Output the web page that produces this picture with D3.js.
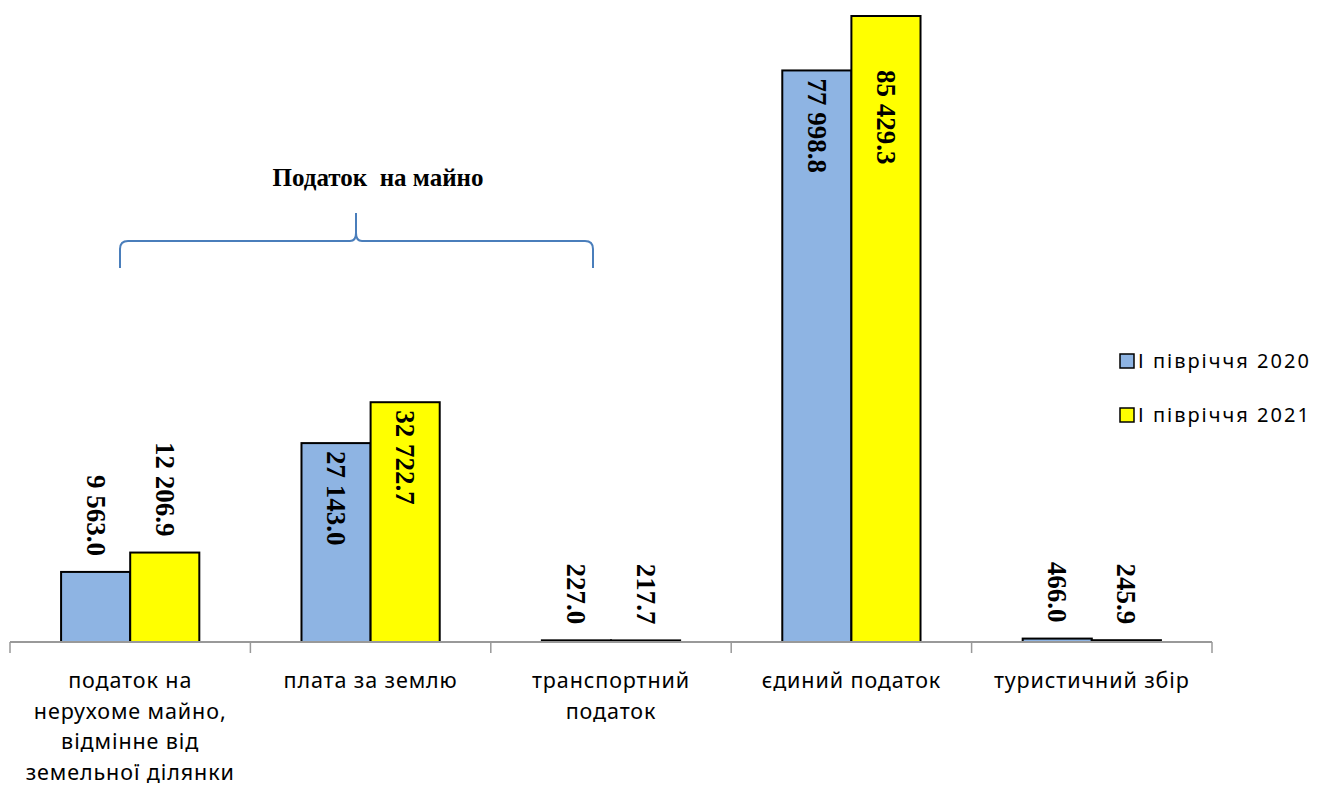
<!DOCTYPE html>
<html>
<head>
<meta charset="utf-8">
<script src="https://cdn.jsdelivr.net/npm/d3@7"></script>
<style>
body { margin: 0; background: #fff; }
svg { display: block; }
</style>
</head>
<body>
<svg width="1327" height="787"></svg>
<script>
// categories and values (тис. грн)
var categories = [
	["податок на", "нерухоме майно,", "відмінне від", "земельної ділянки"],
	["плата за землю"],
	["транспортний", "податок"],
	["єдиний податок"],
	["туристичний збір"]
]
var seriesNames = ["І півріччя 2020", "І півріччя 2021"]
var values2020 = [9563.0, 27143.0, 227.0, 77998.8, 466.0]
var values2021 = [12206.9, 32722.7, 217.7, 85429.3, 245.9]
var colors = ["#8EB4E3", "#FFFF00"]
var groupLabel = "Податок  на майно"

var svg = d3.select("svg")
var baseY = 642

var x0 = d3.scaleBand().domain(d3.range(categories.length)).range([10, 1212])
var bw = x0.bandwidth()
var x1 = d3.scaleBand().domain([0, 1]).range([bw * 0.2125, bw * 0.7875])
var y = d3.scaleLinear().domain([0, 85429.3]).range([baseY, 16])

var fmt = function(v) {
	return d3.format(",.1f")(v).replace(/,/g, " ")
}

var rows = []
categories.forEach(function(c, i) {
	rows.push({ cat: i, s: 0, v: values2020[i] })
	rows.push({ cat: i, s: 1, v: values2021[i] })
})

// bars
svg.selectAll("rect.bar").data(rows).enter().append("rect")
	.attr("class", "bar")
	.attr("x", function(d) { return x0(d.cat) + x1(d.s) })
	.attr("y", function(d) { return y(d.v) })
	.attr("width", x1.bandwidth())
	.attr("height", function(d) { return baseY - y(d.v) })
	.attr("fill", function(d) { return colors[d.s] })
	.attr("stroke", "#000").attr("stroke-width", 2)

// axis
var axis = d3.axisBottom(x0).tickSize(0).tickFormat("")
var gx = svg.append("g").attr("transform", "translate(0," + baseY + ")").call(axis)
gx.select(".domain").attr("stroke", "#999").attr("stroke-width", 2)
	.attr("d", "M10,0H1212")
var bounds = d3.range(categories.length + 1).map(function(i) { return 10 + i * bw })
gx.selectAll("line.tk").data(bounds).enter().append("line")
	.attr("class", "tk")
	.attr("x1", function(d) { return d }).attr("x2", function(d) { return d })
	.attr("y1", 0).attr("y2", 11)
	.attr("stroke", "#999").attr("stroke-width", 1.5)

// category labels
var catText = svg.selectAll("text.cat").data(categories).enter().append("text")
	.attr("class", "cat")
	.attr("text-anchor", "middle")
	.attr("font-family", "Noto Sans, sans-serif")
	.attr("font-size", 21.5)
	.attr("letter-spacing", 0.9)
	.attr("fill", "#000")
catText.each(function(lines, i) {
	var t = d3.select(this)
	lines.forEach(function(l, j) {
		t.append("tspan").attr("x", x0(i) + bw / 2).attr("y", 688 + j * 30.5).text(l)
	})
})

// value labels, rotated
svg.selectAll("text.val").data(rows).enter().append("text")
	.attr("class", "val")
	.attr("font-family", "Liberation Serif, Times New Roman, serif")
	.attr("font-weight", "bold")
	.attr("font-size", 27)
	.attr("fill", "#000")
	.attr("text-anchor", function(d) { return d.v > 20000 ? "start" : "end" })
	.attr("transform", function(d) {
		var cx = x0(d.cat) + x1(d.s) + x1.bandwidth() / 2
		var ty = d.v > 20000 ? Math.max(y(d.v) + 8, 70) : y(d.v) - 16
		return "translate(" + (cx - 9) + "," + ty + ") rotate(90)"
	})
	.text(function(d) { return fmt(d.v) })

// brace over property-tax group
var bx0 = 120, bx1 = 593, bmid = 356, by = 241
var brace = d3.path()
brace.moveTo(bx0, 268)
brace.lineTo(bx0, by + 8)
brace.quadraticCurveTo(bx0, by, bx0 + 8, by)
brace.lineTo(bmid - 6, by)
brace.quadraticCurveTo(bmid, by, bmid, by - 8)
brace.lineTo(bmid, 213)
brace.moveTo(bmid, by - 8)
brace.quadraticCurveTo(bmid, by, bmid + 6, by)
brace.lineTo(bx1 - 8, by)
brace.quadraticCurveTo(bx1, by, bx1, by + 8)
brace.lineTo(bx1, 268)
svg.append("path").attr("d", brace.toString())
	.attr("fill", "none").attr("stroke", "#4A7EBB").attr("stroke-width", 2)

svg.append("text")
	.attr("x", 378).attr("y", 186)
	.attr("text-anchor", "middle")
	.attr("font-family", "Liberation Serif, Times New Roman, serif")
	.attr("font-weight", "bold")
	.attr("font-size", 25)
	.attr("xml:space", "preserve")
	.style("white-space", "pre")
	.text(groupLabel)

// legend
var leg = svg.selectAll("g.leg").data(seriesNames).enter().append("g")
	.attr("class", "leg")
	.attr("transform", function(d, i) { return "translate(1120," + (354 + i * 54) + ")" })
leg.append("rect").attr("width", 14).attr("height", 14)
	.attr("fill", function(d, i) { return colors[i] })
	.attr("stroke", "#000").attr("stroke-width", 1.5)
leg.append("text").attr("x", 18).attr("y", 14)
	.attr("font-family", "Noto Sans, sans-serif")
	.attr("font-size", 20)
	.attr("letter-spacing", 2)
	.attr("fill", "#000")
	.text(function(d) { return d })
</script>
</body>
</html>
